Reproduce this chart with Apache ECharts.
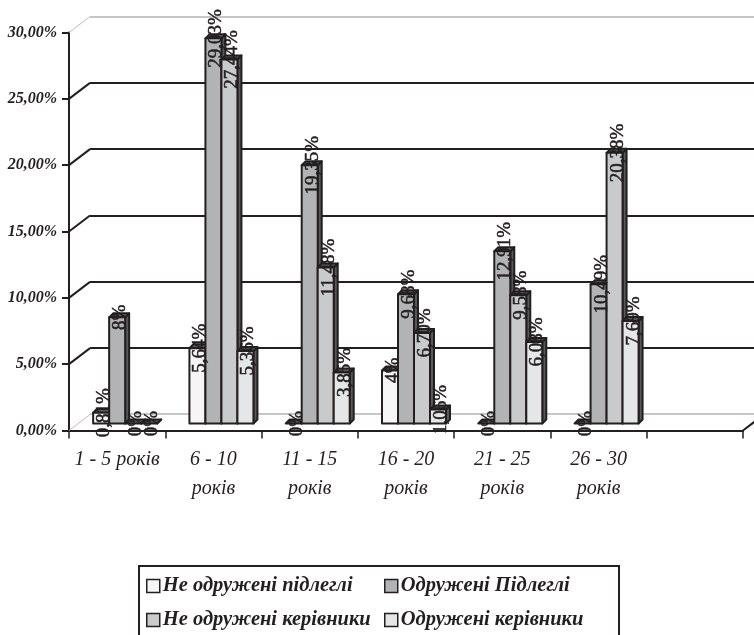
<!DOCTYPE html>
<html>
<head>
<meta charset="utf-8">
<style>
  html, body { margin: 0; padding: 0; background: #fff; overflow: hidden; }
  #chart { width: 754px; height: 635px; }
</style>
</head>
<body>
<div id="chart"></div>
<script src="https://cdn.jsdelivr.net/npm/echarts@6/dist/echarts.min.js"></script>
<script>
const categories = ['1 - 5 років', '6 - 10\nроків', '11 - 15\nроків', '16 - 20\nроків', '21 - 25\nроків', '26 - 30\nроків', '']
const yTicks = [0, 5, 10, 15, 20, 25, 30]

const seriesNames = ['Не одружені підлеглі', 'Одружені Підлеглі', 'Не одружені керівники', 'Одружені керівники']
const neOdrPidlegli = [0.81, 5.67, 0, 4, 0, 0]
const odrPidlegli = [8, 29.03, 19.46, 9.74, 12.98, 10.49]
const neOdrKerivnyky = [0, 27.44, 11.76, 6.83, 9.67, 20.4]
const odrKerivnyky = [0, 5.47, 3.85, 1.06, 6.15, 7.73]

const neOdrPidlegliLabels = ['0,81%', '5,64%', '0%', '4%', '0%', '0%']
const odrPidlegliLabels = ['8%', '29,03%', '19,35%', '9,68%', '12,91%', '10,49%']
const neOdrKerivnykyLabels = ['0%', '27,44%', '11,48%', '6,70%', '9,58%', '20,38%']
const odrKerivnykyLabels = ['0%', '5,36%', '3,85%', '1,06%', '6,08%', '7,69%']

const serif = '"Liberation Serif", serif'
const ink = '#231f20'

// front plane -> bar plane -> back wall offsets of the fake 3d
const barW = 16
const barShiftX = 8
const barShiftY = -7
const depth = 4
const wallX = 21
const wallY = -16

function barSeries (name, values, labels, index, fill) {
  return {
    name: name,
    type: 'custom',
    xAxisIndex: 0,
    yAxisIndex: 0,
    clip: false,
    z: 5 + index,
    itemStyle: { color: fill, borderColor: ink, borderWidth: 1.5 },
    data: values.map((v, i) => [i, v, labels[i]]),
    renderItem: function (params, api) {
      const top = api.coord([api.value(0), api.value(1)])
      const base = api.coord([api.value(0), 0])
      const x = top[0] + barShiftX + (index - 2) * barW
      const y0 = base[1] + barShiftY
      const y1 = top[1] + barShiftY
      const line = { stroke: ink, lineWidth: 2, lineJoin: 'round' }
      const children = [
        { type: 'polygon', shape: { points: [[x + barW, y0], [x + barW + depth, y0 - depth], [x + barW + depth, y1 - depth], [x + barW, y1]] }, style: { fill: '#58595b', ...line } },
        { type: 'polygon', shape: { points: [[x, y1], [x + depth, y1 - depth], [x + barW + depth, y1 - depth], [x + barW, y1]] }, style: { fill: '#58595b', ...line } }
      ]
      if (api.value(1) > 0) {
        children.push({ type: 'rect', shape: { x: x, y: y1, width: barW, height: y0 - y1 }, style: { fill: fill, ...line } })
      }
      return { type: 'group', children: children }
    }
  }
}

function labelSeries (values, labels, index) {
  return {
    type: 'custom',
    xAxisIndex: 0,
    yAxisIndex: 0,
    clip: false,
    silent: true,
    z: 20,
    data: values.map((v, i) => [i, v, labels[i]]),
    renderItem: function (params, api) {
      const top = api.coord([api.value(0), api.value(1)])
      return {
        type: 'text',
        x: top[0] + barShiftX + (index - 2) * barW + barW / 2 + 3,
        y: top[1] + barShiftY,
        rotation: Math.PI / 2,
        style: {
          text: labels[params.dataIndex],
          font: '19px ' + serif,
          fill: ink,
          stroke: ink,
          lineWidth: 0.5,
          align: 'center',
          verticalAlign: 'middle'
        }
      }
    }
  }
}

// slanted lines that tie the front axis to the back wall
const wallLinks = {
  type: 'custom',
  xAxisIndex: 0,
  yAxisIndex: 0,
  clip: false,
  silent: true,
  z: 2,
  data: yTicks.map(t => [0, t]),
  renderItem: function (params, api) {
    const p = api.coord([0, api.value(1)])
    const x = p[0] - api.size([1, 0])[0] / 2
    const soft = api.value(1) === 0 || api.value(1) === 30
    return {
      type: 'line',
      shape: { x1: x, y1: p[1], x2: x + wallX, y2: p[1] + wallY },
      style: { stroke: soft ? '#bcbec0' : ink, lineWidth: soft ? 1 : 2 }
    }
  }
}

const rightLink = {
  type: 'custom',
  xAxisIndex: 0,
  yAxisIndex: 0,
  clip: false,
  silent: true,
  z: 2,
  data: [[6, 0]],
  renderItem: function (params, api) {
    const p = api.coord([api.value(0), api.value(1)])
    const x = p[0] + api.size([1, 0])[0] / 2
    return {
      type: 'line',
      shape: { x1: x, y1: p[1], x2: x + wallX, y2: p[1] + wallY },
      style: { stroke: ink, lineWidth: 2 }
    }
  }
}

const chart = echarts.init(document.getElementById('chart'), null, { renderer: 'canvas' })

const legendText = {
  fontFamily: serif,
  fontStyle: 'italic',
  fontWeight: 'bold',
  fontSize: 20.5,
  color: ink,
  padding: [0, 0, 0, -2]
}

const fills = ['#f6f6f6', '#b1b3b5', '#c8cacc', '#e5e6e7']

chart.setOption({
  animation: false,
  backgroundColor: '#fff',
  grid: [
    { left: 69, right: 11, top: 32.5, bottom: 204.5 },
    { left: 90, right: 0, top: 16.5, bottom: 221 }
  ],
  xAxis: [
    {
      type: 'category',
      gridIndex: 0,
      data: categories,
      axisLine: { lineStyle: { color: ink, width: 2 } },
      axisTick: { show: true, alignWithLabel: false, length: 8, lineStyle: { color: ink, width: 1.5 } },
      axisLabel: {
        interval: 0,
        margin: 15,
        fontFamily: serif,
        fontStyle: 'italic',
        fontSize: 20,
        lineHeight: 29,
        color: ink
      }
    },
    { type: 'category', gridIndex: 1, show: false, data: categories }
  ],
  yAxis: [
    {
      type: 'value',
      gridIndex: 0,
      min: 0,
      max: 30,
      interval: 5,
      axisLine: { show: true, lineStyle: { color: ink, width: 2 } },
      axisTick: { show: true, length: 7, lineStyle: { color: ink, width: 2 } },
      splitLine: { show: false },
      axisLabel: {
        margin: 12,
        fontFamily: serif,
        fontStyle: 'italic',
        fontWeight: 'bold',
        fontSize: 16,
        color: ink,
        formatter: v => v.toFixed(2).replace('.', ',') + '%'
      }
    },
    {
      type: 'value',
      gridIndex: 1,
      min: 0,
      max: 30,
      interval: 5,
      axisLine: { show: false },
      axisTick: { show: false },
      axisLabel: { show: false },
      splitLine: {
        show: true,
        lineStyle: { width: 2, color: ['#c4c6c8', ink, ink, ink, ink, ink, '#c4c6c8'] }
      }
    }
  ],
  legend: [
    {
      left: 141,
      top: 571,
      orient: 'vertical',
      itemGap: 14,
      itemWidth: 13,
      itemHeight: 13,
      icon: 'rect',
      selectedMode: false,
      itemStyle: { borderColor: ink, borderWidth: 1.5 },
      textStyle: legendText,
      data: [seriesNames[0], seriesNames[2]]
    },
    {
      left: 379,
      top: 571,
      orient: 'vertical',
      itemGap: 14,
      itemWidth: 13,
      itemHeight: 13,
      icon: 'rect',
      selectedMode: false,
      itemStyle: { borderColor: ink, borderWidth: 1.5 },
      textStyle: legendText,
      data: [seriesNames[1], seriesNames[3]]
    }
  ],
  graphic: [
    {
      type: 'rect',
      shape: { x: 139, y: 566, width: 480, height: 120 },
      style: { fill: 'none', stroke: ink, lineWidth: 2 },
      silent: true,
      z: 0
    }
  ],
  series: [
    wallLinks,
    rightLink,
    barSeries(seriesNames[0], neOdrPidlegli, neOdrPidlegliLabels, 0, fills[0]),
    barSeries(seriesNames[1], odrPidlegli, odrPidlegliLabels, 1, fills[1]),
    barSeries(seriesNames[2], neOdrKerivnyky, neOdrKerivnykyLabels, 2, fills[2]),
    barSeries(seriesNames[3], odrKerivnyky, odrKerivnykyLabels, 3, fills[3]),
    labelSeries(neOdrPidlegli, neOdrPidlegliLabels, 0),
    labelSeries(odrPidlegli, odrPidlegliLabels, 1),
    labelSeries(neOdrKerivnyky, neOdrKerivnykyLabels, 2),
    labelSeries(odrKerivnyky, odrKerivnykyLabels, 3)
  ]
})
</script>
</body>
</html>
